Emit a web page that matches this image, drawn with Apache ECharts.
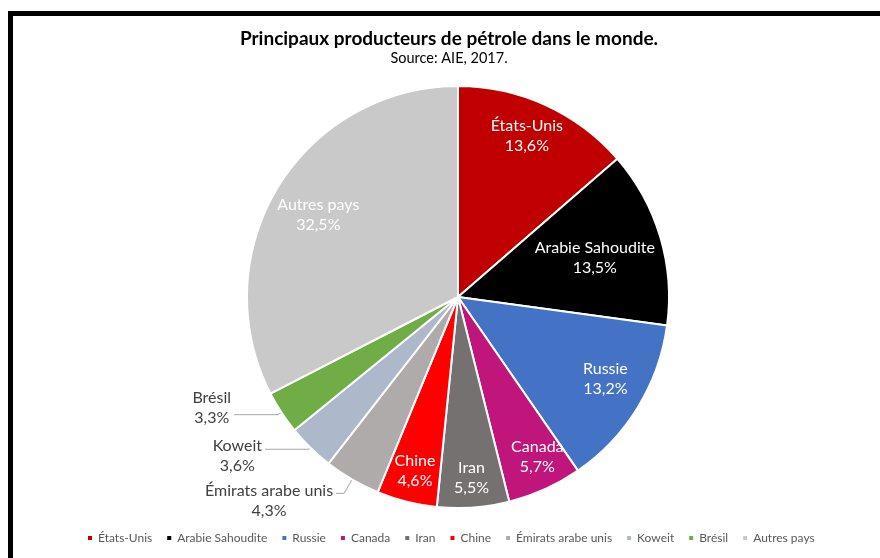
<!DOCTYPE html>
<html><head><meta charset="utf-8">
<script src="https://cdn.jsdelivr.net/npm/echarts@6/dist/echarts.min.js"></script>
<style>
html,body{margin:0;padding:0;background:#fff;}
#frame{position:absolute;left:8px;top:11px;width:900px;height:600px;border-top:5px solid #000;border-left:5px solid #000;box-sizing:border-box;}
#chart{position:absolute;left:0;top:0;width:880px;height:558px;}
</style></head>
<body>
<div id="frame"></div>
<div id="chart"></div>
<script>
const categories = ['États-Unis','Arabie Sahoudite','Russie','Canada','Iran','Chine','Émirats arabe unis','Koweit','Brésil','Autres pays'];
const values = [13.6, 13.5, 13.2, 5.7, 5.5, 4.6, 4.3, 3.6, 3.3, 32.5];
const colors = ['#C00000','#000000','#4472C4','#C0157A','#767171','#FF0000','#AFABAB','#ADB9CA','#70AD47','#C9C9C9'];
const outsideLabels = ['Émirats arabe unis','Koweit','Brésil'];

const FONT = 'Lato';
const fmt = v => v.toFixed(1).replace('.', ',') + '%';

// leader line per outside label: [radial length, horizontal length, label vertical offset]
const leader = {'Émirats arabe unis': [16, 8, 7], 'Koweit': [2, 44, 7], 'Brésil': [4, 44, -7]};
// small nudges for inside labels (Excel "best fit" placement)
const nudge = {
  'États-Unis': [-3, -4], 'Arabie Sahoudite': [-29, 10], 'Russie': [0, -9],
  'Canada': [8, 2], 'Iran': [1, 8], 'Chine': [-1, 6], 'Autres pays': [8, 8]
};

const mainData = categories.map((n, i) => {
  const out = outsideLabels.includes(n);
  const d = {name: n, value: values[i], itemStyle: {color: colors[i]},
    label: {show: out}, labelLine: {show: out}};
  if (out) { d.labelLine.length = leader[n][0]; d.labelLine.length2 = leader[n][1]; }
  return d;
});
const labelData = categories.map((n, i) => ({
  name: n, value: values[i],
  label: {show: !outsideLabels.includes(n)}
}));

const chart = echarts.init(document.getElementById('chart'), null, {renderer:'canvas'});
chart.setOption({
  backgroundColor: 'transparent',
  animation: false,
  title: {
    text: 'Principaux producteurs de pétrole dans le monde.',
    subtext: 'Source: AIE, 2017.',
    left: 444, top: 24, textAlign: 'center', itemGap: 3,
    textStyle: {fontFamily: FONT, fontSize: 19, fontWeight: 'bold', color: '#000'},
    subtextStyle: {fontFamily: FONT, fontSize: 14.5, color: '#000'}
  },
  legend: {
    bottom: 9, left: 81,
    data: categories,
    icon: 'rect', itemWidth: 6, itemHeight: 6, itemGap: 13,
    textStyle: {fontFamily: FONT, fontSize: 12, color: '#595959'}
  },
  series: [{
    type: 'pie', name: 'main',
    center: [458, 297], radius: [0, 211],
    startAngle: 90, clockwise: true,
    avoidLabelOverlap: false,
    itemStyle: {borderColor: '#fff', borderWidth: 2},
    label: {
      position: 'outside', fontFamily: FONT, fontSize: 16, color: '#404040',
      lineHeight: 20,
      formatter: p => p.name + '\n' + fmt(p.value)
    },
    labelLine: {length: 8, length2: 20, lineStyle: {color: '#A6A6A6', width: 1}},
    labelLayout: p => {
      const pts = p.labelLinePoints;
      if (!pts) return {};
      const end = pts[pts.length - 1];
      const n = categories[p.dataIndex];
      return {
        x: end[0] - p.labelRect.width / 2 - 3,
        y: end[1] + leader[n][2],
        align: 'center', verticalAlign: 'middle',
        labelLinePoints: pts
      };
    },
    emphasis: {disabled: true},
    data: mainData
  }, {
    type: 'pie', name: 'labels', silent: true,
    center: [458, 297], radius: [129, 211],
    startAngle: 90, clockwise: true,
    itemStyle: {color: 'rgba(0,0,0,0)'},
    label: {
      position: 'inside', fontFamily: FONT, fontSize: 16, color: '#fff',
      lineHeight: 20, overflow: 'none',
      formatter: p => p.name + '\n' + fmt(p.value)
    },
    labelLayout: p => {
      const n = categories[p.dataIndex];
      return nudge[n] ? {dx: nudge[n][0], dy: nudge[n][1]} : {};
    },
    labelLine: {show: false},
    emphasis: {disabled: true},
    data: labelData
  }]
});
</script>
</body></html>
